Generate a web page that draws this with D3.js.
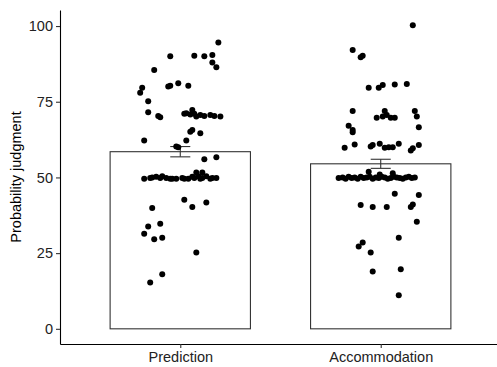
<!DOCTYPE html>
<html>
<head>
<meta charset="utf-8">
<script src="https://cdn.jsdelivr.net/npm/d3@7"></script>
<style>
  body { margin: 0; background: #fff; }
  svg { display: block; font-family: "Liberation Sans", Arial, sans-serif; }
</style>
</head>
<body>
<svg id="chart" width="497" height="367"></svg>
<script>
// Chart values
const categories = ["Prediction", "Accommodation"];
const barMeans = [58.5, 54.5];
const barSE = [1.7, 1.5];
const yTicks = [0, 25, 50, 75, 100];

// Individual responses and their horizontal jitter (category units)
const predictionValues = [
  94.6, 90, 90.2, 90, 90.4, 88, 86.4, 85.5,
  79.6, 78, 80, 80.3, 81.1, 80.3, 75.2, 71.5, 70.3, 69.9,
  71, 71.2, 70.8, 72.3, 71, 70.1, 70.6, 70.3, 70.6, 70.3, 70.1,
  65.7, 65.1, 64.6, 62.2, 62.2, 60.2, 60, 56, 56.7, 51.6, 51.6,
  49.6, 49.8, 50, 50.2, 49.8, 50.4, 49.8, 49.6, 49.6, 49.6, 49.8,
  49.6, 49.6, 50.2, 49.8, 50.4, 49.6, 49.8, 50.4, 49.6, 49.8, 49.8,
  39.9, 42.6, 40.2, 41.7, 33.8, 34.7, 31.4, 29.6, 30.1, 25.2, 18, 15.3
];
const predictionJitter = [
  0.19, -0.05, 0.07, 0.12, 0.16, 0.16, 0.18, -0.13,
  -0.19, -0.20, -0.06, -0.05, -0.01, 0.04, -0.16, -0.16, -0.11, -0.10,
  0.02, 0.03, 0.05, 0.06, 0.07, 0.08, 0.10, 0.12, 0.15, 0.17, 0.20,
  0.06, 0.05, 0.10, -0.18, 0.03, -0.02, -0.01, 0.12, 0.18, 0.08, 0.11,
  -0.18, -0.15, -0.14, -0.12, -0.10, -0.09, -0.07, -0.05, -0.04, -0.02, 0.01,
  0.02, 0.04, 0.06, 0.07, 0.09, 0.10, 0.11, 0.13, 0.15, 0.16, 0.18,
  -0.14, 0.02, 0.06, 0.13, -0.16, -0.10, -0.18, -0.13, -0.09, 0.08, -0.09, -0.15
];
const accommodationValues = [
  100.3, 92.1, 89.7, 90.2, 79.6, 79.6, 80.5, 80.7, 80.9,
  71.9, 69.7, 71.9, 70.1, 70.6, 69.7, 69.7, 71.9, 70.1,
  67.1, 65.7, 64.9, 66.6,
  59.8, 60.9, 60.2, 60.7, 61.1, 59.8, 60, 60, 61.1, 58.9, 59.6, 60.7,
  51.9, 51, 51.4,
  49.8, 50, 49.6, 50.2, 49.8, 50, 49.6, 50.2, 49.8, 50, 50.2, 49.6, 50,
  49.8, 50.2, 50, 49.6, 49.8, 50.2, 50, 49.8, 49.6, 50, 50.2, 49.8, 50,
  44.2, 44.6, 40.2, 40.9, 40.2, 40.2, 41.1, 35.4,
  30.1, 28.5, 27.2, 25.2, 19.7, 18.9, 11.1
];
const accommodationJitter = [
  0.16, -0.14, -0.10, -0.09, -0.06, -0.01, 0.01, 0.07, 0.13,
  -0.14, -0.02, 0.02, 0.01, 0.03, 0.05, 0.07, 0.17, 0.18,
  -0.16, -0.14, -0.14, 0.19,
  -0.18, -0.13, -0.05, -0.04, -0.005, 0.02, 0.04, 0.06, 0.09, 0.15, 0.16, 0.19,
  -0.06, -0.005, 0.06,
  -0.21, -0.19, -0.175, -0.16, -0.145, -0.13, -0.115, -0.10, -0.085, -0.07, -0.055, -0.04, -0.025,
  -0.01, 0.005, 0.02, 0.035, 0.05, 0.065, 0.08, 0.095, 0.11, 0.125, 0.14, 0.155, 0.17, 0.19,
  0.07, 0.15, -0.10, -0.04, 0.03, 0.16, 0.18, 0.09,
  -0.09, -0.11, -0.05, 0.10, -0.04, 0.09, -0.07
];

const svg = d3.select('#chart');

// Plot geometry
const plot = { left: 60, right: 501, top: 10, bottom: 344 };

const x = d3.scaleLinear().domain([0.4, 2.6]).range([plot.left, plot.right]);
const y = d3.scaleLinear().domain([-5.015, 105.3]).range([plot.bottom, plot.top]);

const barWidth = 0.7;
const errWidth = 0.1;

// Bars
svg.selectAll('.bar')
  .data(categories)
  .enter()
  .append('rect')
  .attr('class', 'bar')
  .attr('x', (d, i) => x(i + 1 - barWidth / 2))
  .attr('width', x(barWidth) - x(0))
  .attr('y', (d, i) => y(barMeans[i]))
  .attr('height', (d, i) => y(0) - y(barMeans[i]))
  .attr('fill', '#fff')
  .attr('stroke', '#333')
  .attr('stroke-width', 1.1);

// Error bars
categories.forEach((c, i) => {
  const g = svg.append('g').attr('class', 'errbar')
    .attr('stroke', '#333').attr('stroke-width', 1.1);
  const lo = barMeans[i] - barSE[i], hi = barMeans[i] + barSE[i];
  g.append('line')
    .attr('x1', x(i + 1)).attr('x2', x(i + 1))
    .attr('y1', y(lo)).attr('y2', y(hi));
  [lo, hi].forEach(v => {
    g.append('line')
      .attr('x1', x(i + 1 - errWidth / 2)).attr('x2', x(i + 1 + errWidth / 2))
      .attr('y1', y(v)).attr('y2', y(v));
  });
});

// Points
const points = [];
predictionValues.forEach((v, j) => points.push({ pos: 1 + predictionJitter[j], value: v }));
accommodationValues.forEach((v, j) => points.push({ pos: 2 + accommodationJitter[j], value: v }));

svg.selectAll('.pt')
  .data(points)
  .enter()
  .append('circle')
  .attr('class', 'pt')
  .attr('cx', d => x(d.pos))
  .attr('cy', d => y(d.value))
  .attr('r', 3)
  .attr('fill', '#000');

// Axes
const yAxis = svg.append('g')
  .attr('transform', `translate(${plot.left},0)`)
  .call(d3.axisLeft(y).tickValues(yTicks).tickSize(4).tickSizeOuter(0).tickPadding(3));

const xAxis = svg.append('g')
  .attr('transform', `translate(0,${plot.bottom})`)
  .call(d3.axisBottom(x).tickValues([1, 2]).tickFormat(d => categories[d - 1])
    .tickSize(4).tickSizeOuter(0).tickPadding(3.5));

[yAxis, xAxis].forEach(a => {
  a.select('.domain').attr('stroke', '#000').attr('stroke-width', 1.1);
  a.selectAll('.tick line').attr('stroke', '#333').attr('stroke-width', 1.1);
  a.selectAll('.tick text')
    .attr('fill', '#222')
    .style('font-size', '14.5px')
    .style('font-family', '"Liberation Sans", Arial, sans-serif');
});

// Y axis title
svg.append('text')
  .attr('transform', `translate(21,${(plot.top + plot.bottom) / 2}) rotate(-90)`)
  .attr('text-anchor', 'middle')
  .style('font-size', '14.5px')
  .attr('fill', '#000')
  .text('Probability judgment');
</script>
</body>
</html>
